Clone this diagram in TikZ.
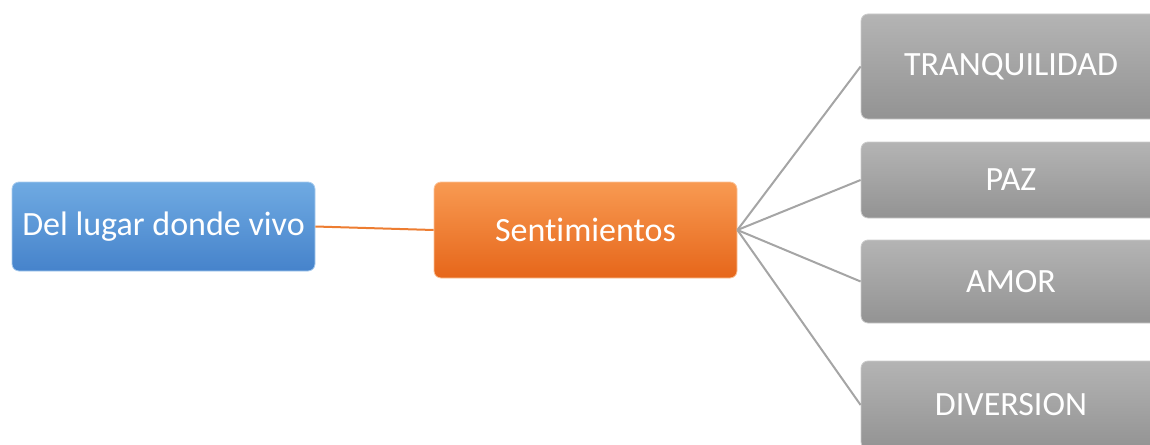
\documentclass[tikz,border=0pt]{standalone}
\usepackage{fontspec}
\setmainfont{Carlito}[Ligatures=NoCommon]
\usepackage{tikz}
\usetikzlibrary{calc,positioning,shadings}

\definecolor{topblue}{HTML}{6FAAE2}
\definecolor{botblue}{HTML}{4683CB}
\definecolor{toporange}{HTML}{F89A52}
\definecolor{botorange}{HTML}{E6661A}
\definecolor{topgray}{HTML}{B4B4B4}
\definecolor{botgray}{HTML}{939393}
\definecolor{linkorange}{HTML}{ED7D31}
\definecolor{linkgray}{HTML}{A5A5A5}

\begin{document}
\begin{tikzpicture}[
  x=1pt,
  y=-1pt,
  font=\fontsize{34}{40}\selectfont
]

  \clip (0,0) rectangle (1150,444);
  \path[use as bounding box] (0,0) rectangle (1150,444);

  \tikzstyle{box}=[rectangle,rounded corners=7pt,text=white,inner sep=2pt,minimum width=303pt,draw=white!60!gray,line width=0.8pt]
  \tikzstyle{bluebox}=[box,top color=topblue,bottom color=botblue,draw=topblue!60!white]
  \tikzstyle{orangebox}=[box,top color=toporange,bottom color=botorange,draw=toporange!60!white]
  \tikzstyle{graybox}=[box,minimum width=300pt,top color=topgray,bottom color=botgray,draw=topgray!70!white]

  \tikzstyle{link}=[draw,line width=2pt]

  % nodes
  \node[bluebox,minimum height=89pt] (lugar) at (163.5,226.5) {Del lugar donde vivo};
  \node[orangebox,minimum height=96pt] (sent) at (585.5,230) {Sentimientos};

  \node[graybox,minimum height=105pt] (tranq) at (1011,66.5) {TRANQUILIDAD};
  \node[graybox,minimum height=76pt] (paz) at (1011,180) {PAZ};
  \node[graybox,minimum height=83pt] (amor) at (1011,281.5) {AMOR};
  \node[graybox,minimum height=88pt] (div) at (1011,405) {DIVERSION};

  % links
  \draw[link,linkorange] (lugar.east) -- (sent.west);
  \draw[link,linkgray] (sent.east) -- (tranq.west);
  \draw[link,linkgray] (sent.east) -- (paz.west);
  \draw[link,linkgray] (sent.east) -- (amor.west);
  \draw[link,linkgray] (sent.east) -- (div.west);

\end{tikzpicture}
\end{document}
